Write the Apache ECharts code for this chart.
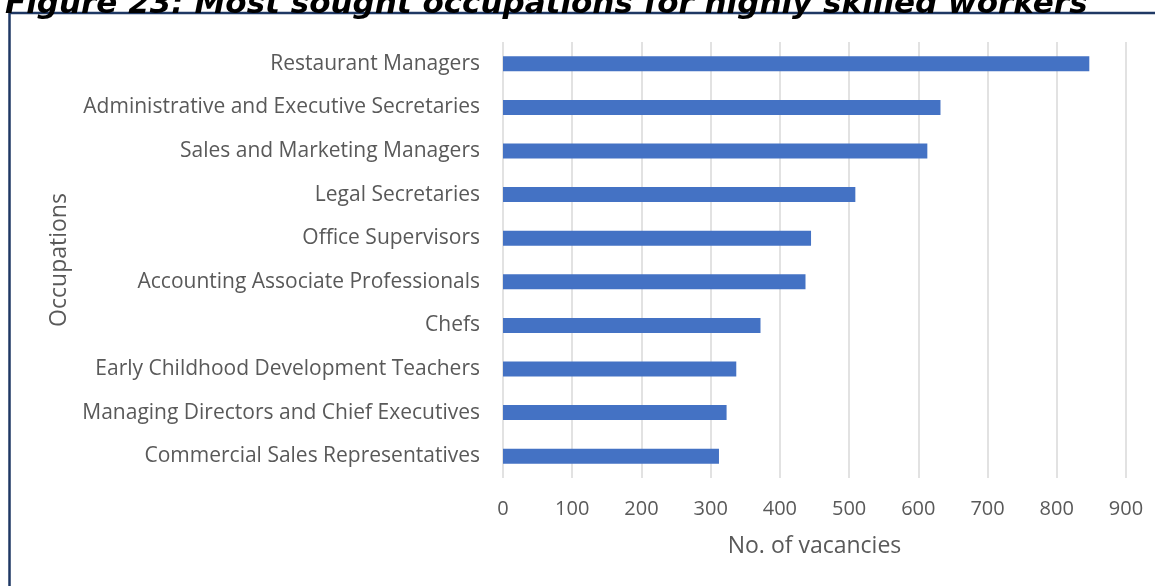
<!DOCTYPE html>
<html>
<head>
<meta charset="utf-8">
<title>Most sought occupations</title>
<script src="https://cdn.jsdelivr.net/npm/echarts@6/dist/echarts.min.js"></script>
<style>
  html, body { margin: 0; padding: 0; background: #ffffff; }
  #chart { width: 1155px; height: 586px; }
</style>
</head>
<body>
<div id="chart"></div>
<script>
// occupations, top to bottom as shown
var occupations = [
    'Restaurant Managers',
    'Administrative and Executive Secretaries',
    'Sales and Marketing Managers',
    'Legal Secretaries',
    'Office Supervisors',
    'Accounting Associate Professionals',
    'Chefs',
    'Early Childhood Development Teachers',
    'Managing Directors and Chief Executives',
    'Commercial Sales Representatives'
];
// no. of vacancies
var vacancies = [847, 632, 613, 509, 445, 437, 372, 337, 323, 312];
var xTicks = [0, 100, 200, 300, 400, 500, 600, 700, 800, 900];

var chart = echarts.init(document.getElementById('chart'));
var labelColor = '#595959';

chart.setOption({
    animation: false,
    title: {
        text: 'Figure 23: Most sought occupations for highly skilled workers',
        left: 0,
        top: -16,
        textStyle: {
            fontFamily: 'DejaVu Sans',
            fontWeight: 'bold',
            fontStyle: 'italic',
            fontSize: 31,
            color: '#000000'
        }
    },
    graphic: [{
        // frame around the chart (right and bottom edges fall outside the picture)
        type: 'rect',
        shape: { x: 9.5, y: 13, width: 1400, height: 800 },
        style: { fill: 'none', stroke: '#1f3864', lineWidth: 2.5 },
        silent: true
    }],
    grid: {
        left: 503,
        top: 42,
        width: 623,
        height: 436,
        containLabel: false
    },
    xAxis: {
        type: 'value',
        min: xTicks[0],
        max: xTicks[xTicks.length - 1],
        interval: 100,
        name: 'No. of vacancies',
        nameLocation: 'middle',
        nameGap: 57,
        nameTextStyle: { color: labelColor, fontSize: 23, fontFamily: 'Open Sans' },
        axisLine: { show: false },
        axisTick: { show: false },
        axisLabel: { color: labelColor, fontSize: 20, fontFamily: 'Open Sans', margin: 21 },
        splitLine: { show: true, lineStyle: { color: '#d9d9d9', width: 1.5 } }
    },
    yAxis: {
        type: 'category',
        data: occupations,
        inverse: true,
        name: 'Occupations',
        nameLocation: 'middle',
        nameGap: 424,
        nameTextStyle: { color: labelColor, fontSize: 23, fontFamily: 'Open Sans' },
        axisLine: { show: false },
        axisTick: { show: false },
        splitLine: { show: false },
        axisLabel: { color: labelColor, fontSize: 21, fontFamily: 'Open Sans', margin: 23 }
    },
    series: [{
        name: 'No. of vacancies',
        type: 'bar',
        data: vacancies,
        barWidth: 15,
        itemStyle: { color: '#4472c4' }
    }]
});
</script>
</body>
</html>
